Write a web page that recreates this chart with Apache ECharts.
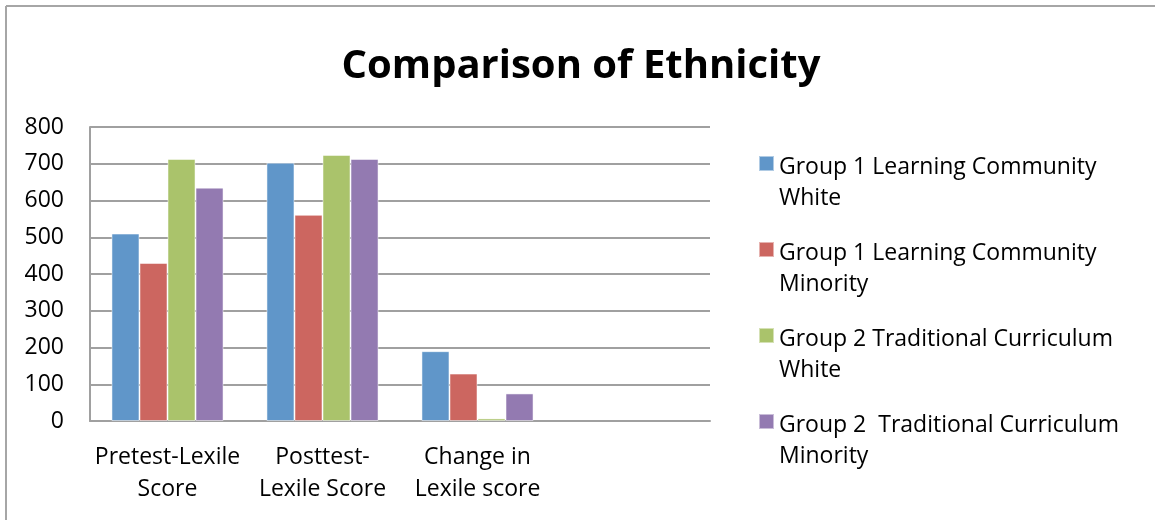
<!DOCTYPE html>
<html>
<head>
<meta charset="utf-8">
<script src="https://cdn.jsdelivr.net/npm/echarts@6/dist/echarts.min.js"></script>
<style>html,body{margin:0;padding:0;background:#fff;}#c{width:1155px;height:520px;}</style>
</head>
<body>
<div id="c"></div>
<script>
var categories = ['Pretest-Lexile\nScore', 'Posttest-\nLexile Score', 'Change in\nLexile score', ''];
var seriesNames = [
  'Group 1 Learning Community\nWhite',
  'Group 1 Learning Community\nMinority',
  'Group 2 Traditional Curriculum\nWhite',
  'Group 2  Traditional Curriculum\nMinority'
];
var g1White = [510, 703, 190, null];
var g1Minority = [430, 561, 129, null];
var g2White = [713, 724, 7, null];
var g2Minority = [635, 713, 75, null];
var yTicks = {min: 0, max: 800, interval: 100};
var colors = ['#6096C9', '#CC6660', '#AAC36B', '#937AB1'];

var values = [g1White, g1Minority, g2White, g2Minority];
var font = '"Open Sans", Lato, sans-serif';
var chart = echarts.init(document.getElementById('c'), null, {renderer: 'canvas'});
chart.setOption({
  backgroundColor: '#fff',
  animation: false,
  color: colors,
  title: {
    text: 'Comparison of Ethnicity',
    left: 581, top: 47, textAlign: 'center', padding: 0,
    textStyle: {fontFamily: font, fontWeight: 'bold', fontSize: 40, color: '#000'}
  },
  graphic: [
    {type: 'line', shape: {x1: 6, y1: 6, x2: 1155, y2: 6}, style: {stroke: '#a6a6a6', lineWidth: 2}},
    {type: 'line', shape: {x1: 6, y1: 6, x2: 6, y2: 520}, style: {stroke: '#a6a6a6', lineWidth: 2}}
  ],
  legend: {
    orient: 'vertical',
    left: 758, top: 152, padding: 0,
    itemWidth: 15, itemHeight: 54,
    itemGap: 24,
    icon: 'path://M0,0H15V15H0Z M0,53.99H0.01V54H0Z',
    textStyle: {fontFamily: font, fontSize: 23, color: '#000', lineHeight: 31},
    data: seriesNames
  },
  grid: {left: 90, right: 445, top: 127, bottom: 99, containLabel: false},
  xAxis: {
    type: 'category',
    data: categories,
    axisLine: {lineStyle: {color: '#a0a0a0', width: 2}},
    axisTick: {show: false},
    axisLabel: {fontFamily: font, fontSize: 23, color: '#000', lineHeight: 32, margin: 20, interval: 0}
  },
  yAxis: {
    type: 'value',
    min: yTicks.min, max: yTicks.max, interval: yTicks.interval,
    axisLine: {show: true, lineStyle: {color: '#a0a0a0', width: 2}},
    axisTick: {show: false},
    splitLine: {lineStyle: {color: '#a0a0a0', width: 2}},
    axisLabel: {fontFamily: font, fontSize: 23, color: '#000', margin: 26}
  },
  series: values.map(function (v, i) {
    return {
      name: seriesNames[i], type: 'bar', data: v,
      barGap: '0%', barCategoryGap: '27.7%',
      itemStyle: {color: colors[i], borderColor: 'rgba(255,255,255,0.5)', borderWidth: 1}
    };
  })
});
</script>
</body>
</html>
